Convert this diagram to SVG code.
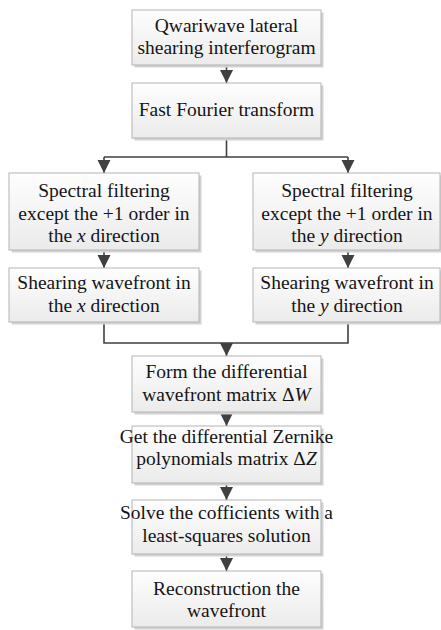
<svg xmlns="http://www.w3.org/2000/svg" width="441" height="630" viewBox="0 0 441 630">
<defs>
<linearGradient id="g" x1="0" y1="0" x2="0" y2="1">
<stop offset="0" stop-color="#fefefe"/>
<stop offset="1" stop-color="#ebebeb"/>
</linearGradient>
<marker id="ah" markerUnits="userSpaceOnUse" markerWidth="14" markerHeight="14" viewBox="0 0 14 14" refX="13" refY="7" orient="auto">
<path d="M0,0.5 L13,7 L0,13.5 Z" fill="#404040"/>
</marker>
</defs>
<style>
.sh{fill:#d2d2d2}
.bx{fill:url(#g);stroke:#b4b4b4;stroke-width:1}
.t{font-family:"Liberation Serif","Times New Roman",serif;font-size:19.5px;fill:#151515;text-anchor:middle}
.i{font-style:italic}
.c{fill:none;stroke:#404040;stroke-width:1.6}
</style>
<rect width="441" height="630" fill="#ffffff"/>
<g id="connectors">
<path class="c" d="M226.5,65 V83" marker-end="url(#ah)"/>
<path class="c" d="M226.5,138 V157 M104,157 H348"/>
<path class="c" d="M104,157 V173" marker-end="url(#ah)"/>
<path class="c" d="M348,157 V173" marker-end="url(#ah)"/>
<path class="c" d="M104,250 V268" marker-end="url(#ah)"/>
<path class="c" d="M348,250 V268" marker-end="url(#ah)"/>
<path class="c" d="M104,322 V343 H348 V322"/>
<path class="c" d="M226.5,343 V356" marker-end="url(#ah)"/>
<path class="c" d="M226.5,412 V426" marker-end="url(#ah)"/>
<path class="c" d="M226.5,483 V500" marker-end="url(#ah)"/>
<path class="c" d="M226.5,554 V571" marker-end="url(#ah)"/>
</g>
<g id="n1">
<rect class="sh" x="134.5" y="12.5" width="189" height="55"/>
<rect class="bx" x="132" y="10" width="189" height="55"/>
<text class="t" x="226.5" y="32">Qwariwave lateral</text>
<text class="t" x="226.5" y="54">shearing interferogram</text>
</g>
<g id="n2">
<rect class="sh" x="134.5" y="85.5" width="189" height="55"/>
<rect class="bx" x="132" y="83" width="189" height="55"/>
<text class="t" x="226.5" y="116">Fast Fourier transform</text>
</g>
<g id="n3">
<rect class="sh" x="11.5" y="175.5" width="190" height="77"/>
<rect class="bx" x="9" y="173" width="190" height="77"/>
<text class="t" x="104" y="197">Spectral filtering</text>
<text class="t" x="104" y="220">except the +1 order in</text>
<text class="t" x="104" y="242">the <tspan class="i">x</tspan> direction</text>
</g>
<g id="n4">
<rect class="sh" x="11.5" y="270.5" width="190" height="54"/>
<rect class="bx" x="9" y="268" width="190" height="54"/>
<text class="t" x="104" y="289">Shearing wavefront in</text>
<text class="t" x="104" y="312">the <tspan class="i">x</tspan> direction</text>
</g>
<g id="n5">
<rect class="sh" x="255.5" y="175.5" width="188" height="77"/>
<rect class="bx" x="253" y="173" width="187" height="77"/>
<text class="t" x="347" y="197">Spectral filtering</text>
<text class="t" x="347" y="220">except the +1 order in</text>
<text class="t" x="347" y="242">the <tspan class="i">y</tspan> direction</text>
</g>
<g id="n6">
<rect class="sh" x="255.5" y="270.5" width="188" height="54"/>
<rect class="bx" x="253" y="268" width="187" height="54"/>
<text class="t" x="347" y="289">Shearing wavefront in</text>
<text class="t" x="347" y="312">the <tspan class="i">y</tspan> direction</text>
</g>
<g id="n7">
<rect class="sh" x="134.5" y="358.5" width="189" height="56"/>
<rect class="bx" x="132" y="356" width="189" height="56"/>
<text class="t" x="226.5" y="378">Form the differential</text>
<text class="t" x="226.5" y="401">wavefront matrix Δ<tspan class="i">W</tspan></text>
</g>
<g id="n8">
<rect class="sh" x="134.5" y="428.5" width="189" height="57"/>
<rect class="bx" x="132" y="426" width="189" height="57"/>
<text class="t" x="226.5" y="443">Get the differential Zernike</text>
<text class="t" x="226.5" y="465">polynomials matrix  Δ<tspan class="i">Z</tspan></text>
</g>
<g id="n9">
<rect class="sh" x="134.5" y="502.5" width="189" height="54"/>
<rect class="bx" x="132" y="500" width="189" height="54"/>
<text class="t" x="226.5" y="519">Solve the cofficients with a</text>
<text class="t" x="226.5" y="542">least-squares solution</text>
</g>
<g id="n10">
<rect class="sh" x="134.5" y="573.5" width="189" height="56"/>
<rect class="bx" x="132" y="571" width="189" height="56"/>
<text class="t" x="226.5" y="595">Reconstruction the</text>
<text class="t" x="226.5" y="617">wavefront</text>
</g>
</svg>
